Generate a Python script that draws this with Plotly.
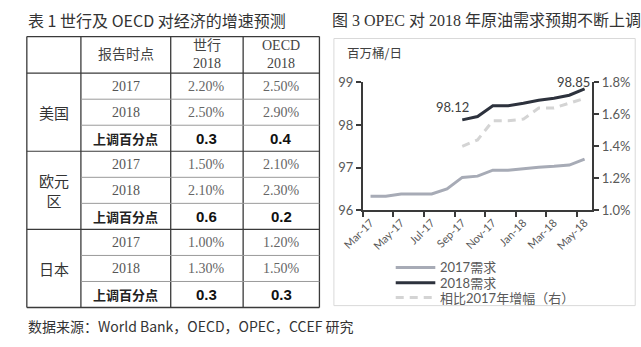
import plotly.graph_objects as go

W, H = 641, 347

# ---------------- data ----------------
months = ["Mar-17", "Apr-17", "May-17", "Jun-17", "Jul-17", "Aug-17", "Sep-17", "Oct-17",
          "Nov-17", "Dec-17", "Jan-18", "Feb-18", "Mar-18", "Apr-18", "May-18"]
demand_2017 = [96.33, 96.33, 96.38, 96.38, 96.38, 96.50, 96.77, 96.80, 96.94, 96.94,
               96.98, 97.01, 97.03, 97.06, 97.20]
demand_2018 = [None, None, None, None, None, None, 98.12, 98.20, 98.45, 98.45,
               98.51, 98.58, 98.63, 98.70, 98.85]
growth_pct = [None, None, None, None, None, None, 1.40, 1.44, 1.56, 1.56,
              1.57, 1.64, 1.64, 1.67, 1.70]
series_names = ["2017需求", "2018需求", "相比2017年增幅（右）"]
series_colors = ["#A7ABB6", "#2D323D", "#D4D4D4"]
series_dash = ["solid", "solid", "8px,6px"]

countries = ["美国", "欧元<br>区", "日本"]
report_years = ["2017", "2018"]
header_labels = ["报告时点", "世行<br>2018", "OECD<br>2018"]
wb_2017 = ["2.20%", "1.50%", "1.00%"]
wb_2018 = ["2.50%", "2.10%", "1.30%"]
oecd_2017 = ["2.50%", "2.10%", "1.20%"]
oecd_2018 = ["2.90%", "2.30%", "1.50%"]
wb_up = ["0.3", "0.6", "0.3"]
oecd_up = ["0.4", "0.2", "0.3"]
up_label = "上调百分点"

title_left = "表 1 世行及 OECD 对经济的增速预测"
title_right = "图 3 OPEC 对 2018 年原油需求预期不断上调"
source_text = "数据来源：World Bank，OECD，OPEC，CCEF 研究"

# --------------- helpers ---------------
def px(x):
    return x / W

def py(y):
    return 1 - y / H

SERIF = "Liberation Serif, Noto Sans CJK SC"
SANS = "Noto Sans CJK SC"
CHART = "Lato, Noto Sans CJK SC"

xi = list(range(len(months)))

fig = go.Figure()
series = [(demand_2017, "y"), (demand_2018, "y"), (growth_pct, "y2")]
for (vals, ax), name, col, dash in zip(series, series_names, series_colors, series_dash):
    fig.add_trace(go.Scatter(x=xi, y=vals, name=name, mode="lines", yaxis=ax,
                             line=dict(color=col, width=3, dash=dash), showlegend=False))

shapes = []
annotations = []

# chart frame
shapes.append(dict(type="rect", xref="paper", yref="paper", x0=px(323), x1=px(635),
                   y0=py(312), y1=py(32), line=dict(color="#D9D9D9", width=1)))

# manual legend (sample line + label)
leg_y = [272, 288, 303.5]
for name, col, dash, ly in zip(series_names, series_colors, series_dash, leg_y):
    shapes.append(dict(type="line", xref="paper", yref="paper", x0=px(387), x1=px(428),
                       y0=py(ly), y1=py(ly), line=dict(color=col, width=3, dash=dash)))
    annotations.append(dict(xref="paper", yref="paper", x=px(431), y=py(ly), text=name,
                            showarrow=False, xanchor="left", yanchor="middle",
                            font=dict(size=13, color="#595959", family=CHART)))

# ---------------- table ----------------
tx = [5, 61, 154, 229, 308]
t_top = 30
head_h = 38.3
row_h = 27.3
t_bot = t_top + head_h + 9 * row_h
dark = "#3A3A3A"
light = "#9A9A9A"

def hline(y, x0, x1, color, w):
    shapes.append(dict(type="line", xref="paper", yref="paper", x0=px(x0), x1=px(x1),
                       y0=py(y), y1=py(y), line=dict(color=color, width=w)))

def vline(x, y0, y1, color, w):
    shapes.append(dict(type="line", xref="paper", yref="paper", x0=px(x), x1=px(x),
                       y0=py(y0), y1=py(y1), line=dict(color=color, width=w)))

hline(t_top, tx[0], tx[-1], dark, 1.3)
hline(t_bot, tx[0], tx[-1], dark, 1.3)
for x in tx:
    vline(x, t_top, t_bot, dark, 1.3)
hline(t_top + head_h, tx[0], tx[-1], dark, 1.2)
for g in range(3):
    gy = t_top + head_h + g * 3 * row_h
    if g > 0:
        hline(gy, tx[0], tx[-1], dark, 1.2)
    for r in (1, 2):
        hline(gy + r * row_h, tx[1], tx[-1], light, 1)

def cell_text(text, x, y, size, color, family, bold=False):
    annotations.append(dict(xref="paper", yref="paper", x=px(x), y=py(y),
                            text=(f"<b>{text}</b>" if bold else text),
                            showarrow=False, xanchor="center", yanchor="middle",
                            font=dict(size=size, color=color, family=family)))

cx = [(tx[i] + tx[i + 1]) / 2 for i in range(4)]
hy = t_top + head_h / 2
for i, lab in enumerate(header_labels):
    cell_text(lab, cx[i + 1], hy, 14, "#444444", SERIF)

for g in range(3):
    gy = t_top + head_h + g * 3 * row_h
    cell_text(countries[g], cx[0], gy + 1.5 * row_h, 15, "#333333", SANS)
    rows = [(report_years[0], wb_2017[g], oecd_2017[g]),
            (report_years[1], wb_2018[g], oecd_2018[g])]
    for r, (yr, a, b) in enumerate(rows):
        yy = gy + (r + 0.5) * row_h
        cell_text(yr, cx[1], yy, 14, "#555555", SERIF)
        cell_text(a, cx[2], yy, 14, "#666666", SERIF)
        cell_text(b, cx[3], yy, 14, "#666666", SERIF)
    yy = gy + 2.5 * row_h
    cell_text(up_label, cx[1], yy, 13, "#222222", SANS, bold=True)
    cell_text(wb_up[g], cx[2], yy, 15, "#111111", "Liberation Sans", bold=True)
    cell_text(oecd_up[g], cx[3], yy, 15, "#111111", "Liberation Sans", bold=True)

# titles and source
annotations.append(dict(xref="paper", yref="paper", x=px(4), y=py(13), text=title_left, showarrow=False,
                        xanchor="left", yanchor="middle", font=dict(size=16, color="#333333", family=SANS)))
annotations.append(dict(xref="paper", yref="paper", x=px(319), y=py(13), text=title_right, showarrow=False,
                        xanchor="left", yanchor="middle", font=dict(size=16, color="#333333", family=SERIF)))
annotations.append(dict(xref="paper", yref="paper", x=px(4), y=py(333), text=source_text, showarrow=False,
                        xanchor="left", yanchor="middle", font=dict(size=14, color="#333333", family=SANS)))

# chart annotations
annotations.append(dict(xref="paper", yref="paper", x=px(334), y=py(47), text="百万桶/日", showarrow=False,
                        xanchor="left", yanchor="middle", font=dict(size=12.5, color="#404040", family=SANS)))
annotations.append(dict(xref="x", yref="y", x=xi[6], y=demand_2018[6], text=f"{demand_2018[6]:.2f}",
                        showarrow=False, xanchor="center", yanchor="middle", xshift=-10, yshift=13,
                        font=dict(size=13, color="#404040", family=CHART)))
annotations.append(dict(xref="x", yref="y", x=xi[14], y=demand_2018[14], text=f"{demand_2018[14]:.2f}",
                        showarrow=False, xanchor="center", yanchor="middle", xshift=-11, yshift=7,
                        font=dict(size=13, color="#404040", family=CHART)))

axis_color = "#3A3A3A"
tick_font = dict(size=13, color="#595959", family=CHART)

fig.update_layout(
    width=W, height=H, margin=dict(l=0, r=0, t=0, b=0),
    paper_bgcolor="white", plot_bgcolor="white",
    shapes=shapes, annotations=annotations,
    xaxis=dict(domain=[px(353), px(590.5)], range=[-0.5, 14.5], showgrid=False, zeroline=False,
               showline=True, linecolor=axis_color, linewidth=2,
               tickvals=xi[::2], ticktext=months[::2], tickangle=-45, ticks="",
               tickfont=dict(size=11, color="#595959", family=CHART),
               minor=dict(ticks="outside", tick0=-0.5, dtick=2, ticklen=5, tickwidth=1.5,
                          tickcolor=axis_color, showgrid=False)),
    yaxis=dict(domain=[py(212), py(78)], range=[96, 99], dtick=1, showgrid=False, zeroline=False,
               showline=True, linecolor=axis_color, linewidth=2, ticks="outside", ticklen=5,
               tickwidth=1.5, tickcolor=axis_color, tickfont=tick_font),
    yaxis2=dict(overlaying="y", side="right", anchor="x", range=[1.0, 1.8], dtick=0.2,
                tickformat=".1f", ticksuffix="%", showgrid=False, zeroline=False,
                showline=True, linecolor=axis_color, linewidth=2, ticks="outside", ticklen=5,
                tickwidth=1.5, tickcolor=axis_color, tickfont=tick_font),
    showlegend=False,
)

fig.write_html("out.html")
